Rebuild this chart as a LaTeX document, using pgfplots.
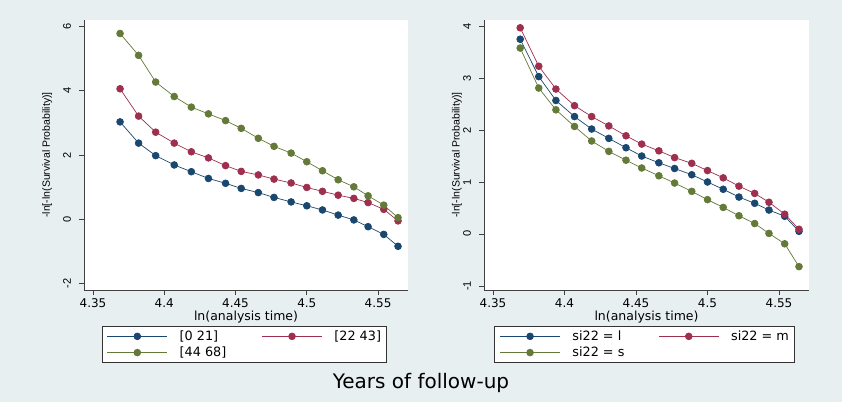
\documentclass[border=0pt]{standalone}
\usepackage{fontspec}
\setmainfont{DejaVu Sans}
\newfontfamily\libsans{Liberation Sans}
\usepackage{pgfplots}
\usepackage{pgfplotstable}
\pgfplotsset{compat=1.18}

\definecolor{bgc}{RGB}{232,239,241}
\definecolor{snavy}{RGB}{26,71,111}
\definecolor{smaroon}{RGB}{158,47,78}
\definecolor{sgreen}{RGB}{100,122,56}

% left panel: age groups
\pgfplotstableread{
x      a      b      c
4.369  3.03   4.06   5.78
4.382  2.37   3.21   5.10
4.394  1.98   2.71   4.27
4.407  1.69   2.37   3.82
4.419  1.48   2.10   3.49
4.431  1.27   1.91   3.28
4.443  1.12   1.67   3.07
4.454  0.96   1.49   2.83
4.466  0.83   1.38   2.52
4.477  0.68   1.25   2.27
4.489  0.54   1.13   2.06
4.500  0.42   0.99   1.79
4.511  0.29   0.87   1.51
4.522  0.13   0.75   1.23
4.533  -0.02  0.65   1.01
4.543  -0.23  0.52   0.73
4.554  -0.47  0.31   0.44
4.564  -0.84  -0.05  0.05
}\agetab

% right panel: si22
\pgfplotstableread{
x      l      m      s
4.369  3.75   3.97   3.58
4.382  3.03   3.23   2.81
4.394  2.57   2.79   2.39
4.407  2.26   2.47   2.07
4.419  2.02   2.26   1.79
4.431  1.84   2.08   1.59
4.443  1.66   1.89   1.42
4.454  1.50   1.73   1.27
4.466  1.37   1.60   1.12
4.477  1.26   1.47   0.98
4.489  1.14   1.36   0.82
4.500  1.00   1.22   0.66
4.511  0.86   1.08   0.51
4.522  0.71   0.92   0.35
4.533  0.59   0.78   0.20
4.543  0.46   0.61   0.01
4.554  0.34   0.38   -0.19
4.564  0.05   0.09   -0.63
}\sitab

\pgfplotsset{
  kmpanel/.style={
    scale only axis, height=270pt,
    axis lines=left,
    axis line style={-, draw=black!75, line width=0.6pt},
    axis background/.style={fill=white},
    tick align=outside, major tick length=5pt,
    tick style={draw=black!75, line width=0.6pt},
    xmin=4.3437, xmax=4.571,
    xtick={4.35,4.4,4.45,4.5,4.55},
    xticklabels={4.35,4.4,4.45,4.5,4.55},
    /pgf/number format/assume math mode=true,
    xticklabel style={font=\fontsize{12}{13}\selectfont, inner sep=0pt, anchor=center, yshift=-8pt},
    yticklabel style={font=\libsans\fontsize{11}{12}\selectfont, xshift=-12pt, rotate=90, anchor=center},
    xlabel={ln(analysis time)},
    xlabel style={font=\fontsize{12.5}{14}\selectfont, inner sep=0pt, at={(axis description cs:0.5,0)}, anchor=center, yshift=-27pt},
    ylabel={-ln[-ln(Survival Probability)]},
    ylabel style={font=\libsans\fontsize{10.5}{12}\selectfont, anchor=center},
    legend columns=2, legend cell align=left,
    legend image code/.code={\draw[mark repeat=2,mark phase=2] plot coordinates {(0pt,0pt) (30pt,0pt) (60pt,0pt)};},
    legend style={anchor=north west, draw=black!80, line width=0.6pt, fill=white,
      font=\fontsize{12.8}{14}\selectfont, inner xsep=5pt, inner ysep=3pt,
      row sep=3pt, column sep=12pt, nodes={inner xsep=0pt, inner ysep=1pt}},
    every axis plot/.append style={line width=0.7pt, mark=*, mark size=3.4pt, mark options={solid}},
  },
}

\begin{document}
\begin{tikzpicture}
\useasboundingbox (0,0) rectangle (842pt,402pt);
\fill[bgc] (0,0) rectangle (842pt,402pt);

\begin{axis}[kmpanel, width=324pt, at={(84pt,112pt)}, anchor=south west,
  ymin=-2.2, ymax=6.2, ytick={-2,0,2,4,6},
  ylabel style={at={(axis description cs:-0.114,0.5)}},
  legend style={at={(0.0546,-0.135)}}]
\addplot[color=snavy] table[x=x,y=a] {\agetab};
\addlegendentry{\makebox[70pt][l]{[0 21]}}
\addplot[color=smaroon] table[x=x,y=b] {\agetab};
\addlegendentry{[22 43]}
\addplot[color=sgreen] table[x=x,y=c] {\agetab};
\addlegendentry{[44 68]}
\end{axis}

\begin{axis}[kmpanel, width=325pt, at={(484pt,112pt)}, anchor=south west,
  ymin=-1.08, ymax=4.12, ytick={-1,0,1,2,3,4},
  ylabel style={at={(axis description cs:-0.083,0.5)}},
  legend style={at={(0.032,-0.135)}}]
\addplot[color=snavy] table[x=x,y=l] {\sitab};
\addlegendentry{\makebox[74pt][l]{si22 = l}}
\addplot[color=smaroon] table[x=x,y=m] {\sitab};
\addlegendentry{si22 = m}
\addplot[color=sgreen] table[x=x,y=s] {\sitab};
\addlegendentry{si22 = s}
\end{axis}

\node[font=\fontsize{20}{23}\selectfont] at (421pt,19.5pt) {Years of follow-up};
\end{tikzpicture}
\end{document}
